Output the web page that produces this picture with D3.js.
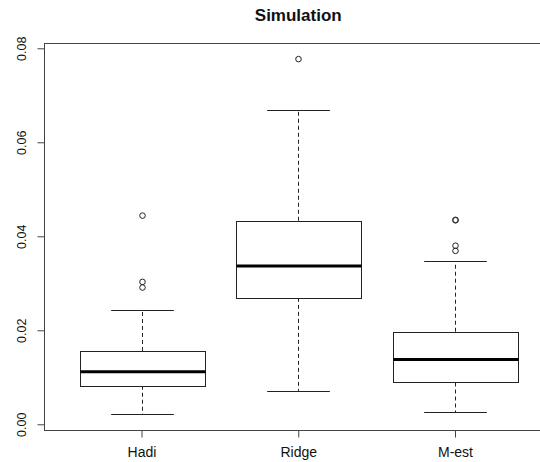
<!DOCTYPE html>
<html>
<head>
<meta charset="utf-8">
<script src="https://cdn.jsdelivr.net/npm/d3@7"></script>
<style>
  html, body { margin: 0; padding: 0; background: #fff; }
  svg { display: block; }
  text { font-family: "Liberation Sans", Arial, sans-serif; fill: #111; }
</style>
</head>
<body>
<svg id="chart" width="540" height="462"></svg>
<script>
// ---- data ----
const categories   = ["Hadi", "Ridge", "M-est"];
const whiskerLow   = [0.0021, 0.0071, 0.0026];
const q1           = [0.0082, 0.0269, 0.0089];
const medians      = [0.0112, 0.0337, 0.0138];
const q3           = [0.0156, 0.0433, 0.0197];
const whiskerHigh  = [0.0243, 0.0669, 0.0347];
const outliers     = [
  [0.0444, 0.0303, 0.0291],
  [0.0777],
  [0.0435, 0.0434, 0.0380, 0.0369]
];
const yTicks       = [0.00, 0.02, 0.04, 0.06, 0.08];
const title        = "Simulation";

// ---- layout ----
const svg = d3.select("#chart");
const x = d3.scalePoint().domain(categories).range([141.5, 455]);
const step = x.step();
const boxW = step * 0.8;
const capW = boxW * 0.5;
const y = d3.scaleLinear().domain([0, 0.08]).range([424.3, 48.3]);

const frameLeft = 44.5, frameRight = 552;
const frameTop = Math.round(y(0.0812)) + 0.5;
const frameBottom = Math.round(y(-0.0012)) + 0.5;

const ink = "#222";

// frame
svg.append("rect")
  .attr("x", frameLeft).attr("y", frameTop)
  .attr("width", frameRight - frameLeft).attr("height", frameBottom - frameTop)
  .attr("fill", "none").attr("stroke", "#444").attr("stroke-width", 1);

// y axis
const yAxis = d3.axisLeft(y).tickValues(yTicks).tickFormat(d3.format(".2f")).tickSize(7).tickPadding(0);
const gy = svg.append("g").attr("transform", `translate(${frameLeft - 7},0)`).call(yAxis);
gy.select(".domain").remove();
gy.selectAll(".tick line").attr("x2", 0).attr("x1", 0)
  .attr("x2", -7).attr("transform", "translate(7,0)").attr("stroke", "#444");
gy.selectAll(".tick text")
  .attr("x", 0).attr("dy", null)
  .attr("transform", "translate(-12,0) rotate(-90)")
  .attr("text-anchor", "middle")
  .attr("font-size", 12.5)
  .style("font-family", "'Liberation Sans', Arial, sans-serif")
  .attr("fill", "#222");

// x axis
const xAxis = d3.axisBottom(x).tickSize(7).tickPadding(10);
const gx = svg.append("g").attr("transform", `translate(0,${frameBottom})`).call(xAxis);
gx.select(".domain").remove();
gx.selectAll(".tick line").attr("stroke", "#444");
gx.selectAll(".tick text")
  .attr("font-size", 14)
  .style("font-family", "'Liberation Sans', Arial, sans-serif")
  .attr("fill", "#222");

// boxes
const g = svg.append("g");
categories.forEach((c, i) => {
  const cx = Math.round(x(c)) + 0.5;
  // whiskers (dashed)
  g.append("line").attr("x1", cx).attr("x2", cx)
    .attr("y1", y(q3[i])).attr("y2", y(whiskerHigh[i]))
    .attr("stroke", ink).attr("stroke-dasharray", "4,3");
  g.append("line").attr("x1", cx).attr("x2", cx)
    .attr("y1", y(q1[i])).attr("y2", y(whiskerLow[i]))
    .attr("stroke", ink).attr("stroke-dasharray", "4,3");
  // caps
  [whiskerHigh[i], whiskerLow[i]].forEach(v => {
    const yy = Math.round(y(v)) + 0.5;
    g.append("line").attr("x1", cx - capW / 2).attr("x2", cx + capW / 2)
      .attr("y1", yy).attr("y2", yy).attr("stroke", ink);
  });
  // box
  const top = Math.round(y(q3[i])) + 0.5, bot = Math.round(y(q1[i])) + 0.5;
  g.append("rect")
    .attr("x", Math.round(cx - boxW / 2) + 0.5).attr("y", top)
    .attr("width", Math.round(boxW)).attr("height", bot - top)
    .attr("fill", "#fff").attr("stroke", ink);
  // median
  g.append("line")
    .attr("x1", Math.round(cx - boxW / 2) + 0.5).attr("x2", Math.round(cx - boxW / 2) + 0.5 + Math.round(boxW))
    .attr("y1", y(medians[i])).attr("y2", y(medians[i]))
    .attr("stroke", "#000").attr("stroke-width", 3);
  // outliers
  outliers[i].forEach(v => {
    g.append("circle").attr("cx", cx).attr("cy", y(v)).attr("r", 2.8)
      .attr("fill", "none").attr("stroke", ink).attr("stroke-width", 1);
  });
});

// title
svg.append("text")
  .attr("x", (frameLeft + frameRight) / 2).attr("y", 21)
  .attr("text-anchor", "middle")
  .attr("font-weight", "bold").attr("font-size", 17)
  .text(title);
</script>
</body>
</html>
